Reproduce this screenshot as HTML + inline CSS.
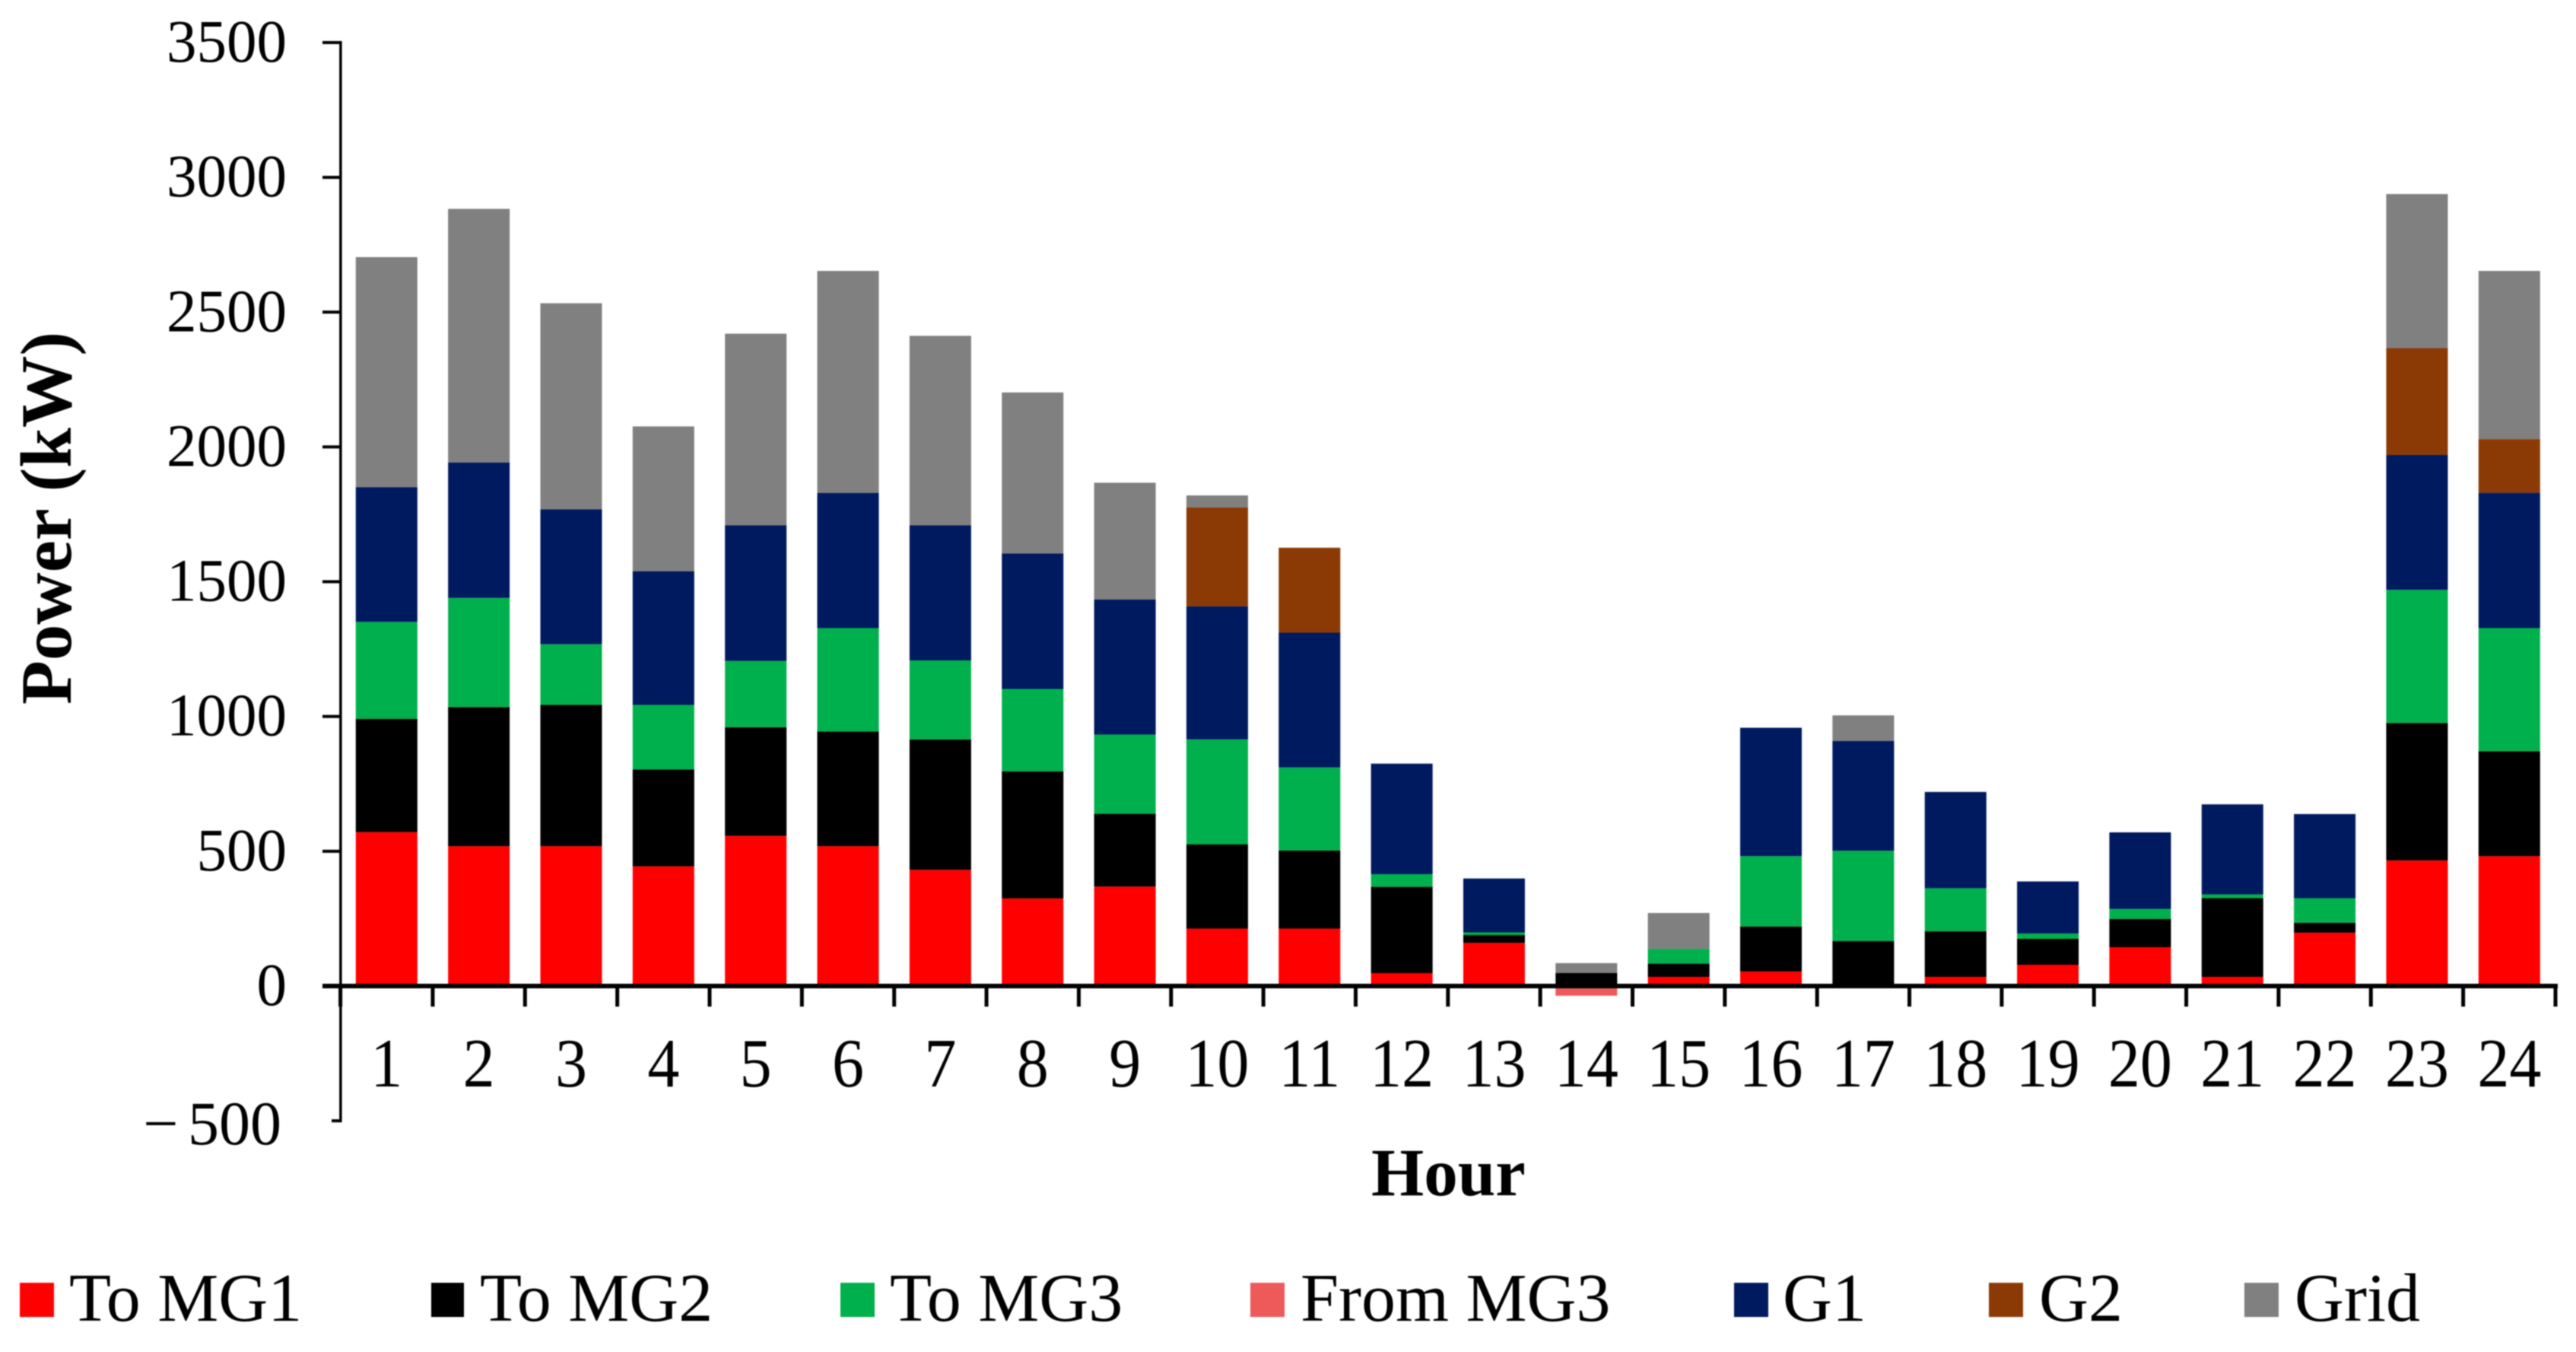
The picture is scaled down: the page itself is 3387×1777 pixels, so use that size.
<!DOCTYPE html>
<html lang="en">
<head>
<meta charset="utf-8">
<title>Hourly power stacked bar chart</title>
<style>
  html, body { margin: 0; padding: 0; background: #fff; }
  body { width: 3387px; height: 1777px; overflow: hidden; }
  svg { display: block; filter: blur(0.7px); }
  text { font-family: "Liberation Serif", serif; fill: #000; }
</style>
</head>
<body>
<svg id="chart" xmlns="http://www.w3.org/2000/svg" width="3387" height="1777" viewBox="0 0 3387 1777">
  <rect x="0" y="0" width="3387" height="1777" fill="#ffffff"/>
  <g id="bars"></g>
  <g id="axes"></g>
  <text transform="translate(93,926) rotate(-90)" font-size="95" font-weight="bold" textLength="490" lengthAdjust="spacingAndGlyphs">Power (kW)</text>
  <text x="1803" y="1571" font-size="89" font-weight="bold">Hour</text>
  <g font-size="90">
    <g>
      <rect x="26" y="1686" width="45" height="45" fill="#ff0000"/>
      <text x="91" y="1736">To MG1</text>
    </g>
    <g>
      <rect x="567" y="1686" width="43" height="45" fill="#000000"/>
      <text x="631" y="1736">To MG2</text>
    </g>
    <g>
      <rect x="1105" y="1686" width="45" height="45" fill="#00b04c"/>
      <text x="1170" y="1736">To MG3</text>
    </g>
    <g>
      <rect x="1644" y="1686" width="45" height="45" fill="#ee5a5a"/>
      <text x="1710" y="1736">From MG3</text>
    </g>
    <g>
      <rect x="2280" y="1686" width="45" height="45" fill="#001a60"/>
      <text x="2344" y="1736">G1</text>
    </g>
    <g>
      <rect x="2615" y="1686" width="45" height="45" fill="#8b3a05"/>
      <text x="2681" y="1736">G2</text>
    </g>
    <g>
      <rect x="2951" y="1686" width="45" height="45" fill="#808080"/>
      <text x="3017" y="1736">Grid</text>
    </g>
  </g>
</svg>
<script>
const hours = ["1","2","3","4","5","6","7","8","9","10","11","12","13","14","15","16","17","18","19","20","21","22","23","24"];
const yTickValues = [-500,0,500,1000,1500,2000,2500,3000,3500];
const yTickLabels = ["\u2212 500","0","500","1000","1500","2000","2500","3000","3500"];
const toMG1   = [571,519,519,444,557,519,431,325,369,213,213,48,160,0,34,54,0,34,79,144,34,198,466,482];
const toMG2   = [420,516,524,359,403,425,484,471,270,313,290,320,29,48,49,167,167,169,96,105,292,37,510,389];
const toMG3   = [360,405,225,240,246,384,293,306,294,389,308,47,10,0,55,261,335,160,20,37,14,91,494,457];
const fromMG3 = [0,0,0,0,0,0,0,0,0,0,0,0,0,-36,0,0,0,0,0,0,0,0,0,0];
const g1      = [500,502,501,496,503,501,501,503,501,494,500,410,200,0,0,476,407,357,193,284,334,312,500,502];
const g2      = [0,0,0,0,0,0,0,0,0,367,315,0,0,0,0,0,0,0,0,0,0,0,397,199];
const grid    = [853,941,764,537,711,824,703,597,433,44,0,0,0,37,133,0,95,0,0,0,0,0,571,624];

const SVG_NS = "http://www.w3.org/2000/svg";
const barsLayer = document.getElementById("bars");
const axesLayer = document.getElementById("axes");

const plotLeft = 447.6, plotRight = 3360, zeroY = 1296, unitsPerPx = 0.3543, barWidth = 81;
const bandWidth = (plotRight - plotLeft) / hours.length;
function xScale(i) { return plotLeft + bandWidth * (i + 0.5); }
function yScale(v) { return zeroY - v * unitsPerPx; }

function makeRect(x, y, w, h, fill) {
  const r = document.createElementNS(SVG_NS, "rect");
  r.setAttribute("x", x);
  r.setAttribute("y", y);
  r.setAttribute("width", w);
  r.setAttribute("height", h);
  r.setAttribute("fill", fill);
  return r;
}
function makeText(content, x, y, size, anchor) {
  const t = document.createElementNS(SVG_NS, "text");
  t.setAttribute("x", x);
  t.setAttribute("y", y);
  t.setAttribute("font-size", size);
  t.setAttribute("text-anchor", anchor);
  t.textContent = content;
  return t;
}

const stackOrder = [
  { key: "to-mg1", values: toMG1, color: "#ff0000" },
  { key: "to-mg2", values: toMG2, color: "#000000" },
  { key: "to-mg3", values: toMG3, color: "#00b04c" },
  { key: "g1", values: g1, color: "#001a60" },
  { key: "g2", values: g2, color: "#8b3a05" },
  { key: "grid", values: grid, color: "#808080" }
];

hours.forEach(function (hour, i) {
  let base = 0;
  stackOrder.forEach(function (series) {
    const v = series.values[i];
    if (v > 0) {
      const seg = makeRect(xScale(i) - barWidth / 2, yScale(base + v), barWidth, yScale(base) - yScale(base + v), series.color);
      
      
      barsLayer.appendChild(seg);
      base += v;
    }
  });
  if (fromMG3[i] < 0) {
    const neg = makeRect(xScale(i) - barWidth / 2, yScale(0), barWidth, yScale(fromMG3[i]) - yScale(0), "#ee5a5a");
    
    
    barsLayer.appendChild(neg);
  }
});

const yAxisLine = makeRect(plotLeft - 1.5, yScale(3500) - 2, 3.5, yScale(-500) - yScale(3500) + 4, "#000000");


axesLayer.appendChild(yAxisLine);

yTickValues.forEach(function (v, i) {
  const isNegative = v < 0;
  const tickLeft = isNegative ? 436 : 424;
  const tick = makeRect(tickLeft, yScale(v) - 2, plotLeft - tickLeft, 4, "#000000");
  
  
  axesLayer.appendChild(tick);
  const label = makeText(yTickLabels[i], isNegative ? 370 : 377, yScale(v) + (isNegative ? 31 : 25), isNegative ? 82 : 79, "end");
  label.setAttribute("word-spacing", "-8");
  
  
  axesLayer.appendChild(label);
});

const xAxisLine = makeRect(424, zeroY - 3, plotRight - 424 + 3, 6, "#000000");


axesLayer.appendChild(xAxisLine);

for (let i = 0; i <= hours.length; i++) {
  const tick = makeRect(plotLeft + bandWidth * i - 2.5, zeroY, 5, 27, "#000000");
  
  
  axesLayer.appendChild(tick);
}

hours.forEach(function (hour, i) {
  const label = makeText(hour, 0, 0, 84, "middle");
  label.setAttribute("transform", "translate(" + xScale(i) + ",1428) scale(1,1.08)");
  
  
  axesLayer.appendChild(label);
});
</script>
</body>
</html>
